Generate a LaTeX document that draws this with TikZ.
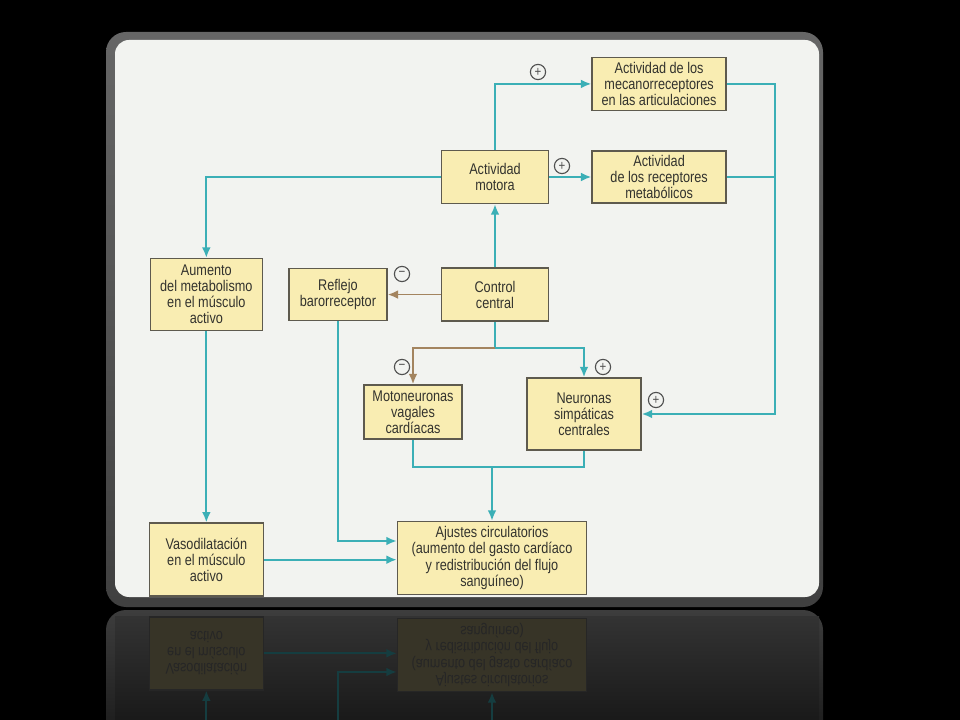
\documentclass[tikz,border=0pt]{standalone}
\usepackage{fontspec}
\setmainfont{Liberation Sans}[FakeStretch=0.82]
\usepackage{tikz}
\usetikzlibrary{positioning,arrows.meta,calc}
\definecolor{boxfill}{HTML}{F9EDB2}
\definecolor{boxline}{HTML}{5E5A4E}
\definecolor{boxtext}{HTML}{33332E}
\definecolor{flow}{HTML}{3BAFB6}
\definecolor{inhib}{HTML}{A3845F}
\definecolor{signline}{HTML}{505050}
\definecolor{pagecol}{HTML}{F2F3F0}
\tikzset{
  box/.style={draw=boxline,fill=boxfill,text=boxtext,line width=1.1pt,align=center,inner sep=2pt,
    font=\fontsize{11}{11.4}\selectfont},
  arr/.style={-{Latex[length=2.6mm,width=2.2mm]},draw=flow,line width=1.3pt},
  link/.style={draw=flow,line width=1.3pt},
  neg/.style={-{Latex[length=2.6mm,width=2.2mm]},draw=inhib,line width=1.3pt},
  sign/.style={draw=signline,circle,line width=0.8pt,inner sep=0pt,minimum size=0.38cm,
    text=signline,font=\fontsize{10}{10}\selectfont},
}
% texts of the upper boxes (left out in the reflection)
\newcommand\alto[1]{#1}
% boxes, arrows and signs of the scheme
\newcommand\ejercicio{%
\node[box, minimum width=2.675cm, minimum height=1.325cm] (motora) at (495,177) {\alto{Actividad\\motora}};
\node[box, right=1.05cm of motora, minimum width=3.35cm, minimum height=1.3cm] (metab) {\alto{Actividad\\de los receptores\\metabólicos}};
\node[box, above=0.975cm of metab, minimum width=3.35cm, minimum height=1.325cm] (mecano) {\alto{Actividad de los\\mecanorreceptores\\en las articulaciones}};
\node[box, below=1.575cm of motora, minimum width=2.675cm, minimum height=1.325cm] (control) {\alto{Control\\central}};
\node[box, left=1.325cm of control, minimum width=2.45cm, minimum height=1.3cm] (baro) {\alto{Reflejo\\barorreceptor}};
\node[box, left=0.625cm of baro, minimum width=2.8cm, minimum height=1.8cm] (musculo) {\alto{Aumento\\del metabolismo\\en el músculo\\activo}};
\node[box, minimum width=2.45cm, minimum height=1.35cm] (vagal) at (413,412) {\alto{Motoneuronas\\vagales\\cardíacas}};
\node[box, minimum width=2.85cm, minimum height=1.8cm] (simpat) at (584,414) {\alto{Neuronas\\simpáticas\\centrales}};
\node[box, below=4.775cm of musculo, minimum width=2.85cm, minimum height=1.825cm] (vaso) {Vasodilatación\\en el músculo\\activo};
\node[box, minimum width=4.725cm, minimum height=1.825cm] (ajustes) at (492,558) {Ajustes circulatorios\\(aumento del gasto cardíaco\\y redistribución del flujo\\sanguíneo)};
\coordinate (split) at ($(control.south)+(0,26)$);
\coordinate (merge) at ($(ajustes.north)+(0,-54)$);
\draw[arr] (motora.north) |- (mecano.west);
\draw[arr] (motora.east) -- (metab.west);
\draw[arr] (motora.west) -| (musculo.north);
\draw[arr] (control) -- (motora);
\draw[neg] (control) -- (baro);
\draw[link] (control.south) -- (split);
\draw[neg] (split) -| (vagal.north);
\draw[arr] (split) -| (simpat.north);
\draw[arr] (mecano.east) -- ++(48,0) |- (simpat.east);
\draw[link] (metab.east) -- ++(48,0);
\draw[link] (vagal.south) |- (merge) -| (simpat.south);
\draw[arr] (merge) -- (ajustes.north);
\draw[arr] (musculo) -- (vaso);
\draw[arr] (baro.south) |- ([yshift=0.425cm]ajustes.west);
\draw[arr] (vaso.east) -- (vaso.east -| ajustes.west);
\node[sign] (pmec) at (538,72) {\alto{+}};
\node[sign] (pmet) at (562,166) {\alto{+}};
\node[sign] (mbaro) at (402,274) {\alto{−}};
\node[sign] (mvag) at (402,367) {\alto{−}};
\node[sign] (psim) at (603,367) {\alto{+}};
\node[sign] (pret) at (656,400) {\alto{+}};
}

\begin{document}
\begin{tikzpicture}[x=0.025cm,y=-0.025cm]
\useasboundingbox (0,0) rectangle (960,720);
\fill[black] (0,0) rectangle (960,720);
% reflection
\begin{scope}
\clip (0,609) rectangle (960,720);
\shade[top color=black!76, bottom color=black!92, rounded corners=0.5cm] (106,610) rectangle (823,760);
\shade[top color=black!80, bottom color=black!90] (115,616) rectangle (819,720);
\begin{scope}[shift={(0,1213)}, yscale=-1, transform shape]
\renewcommand\alto[1]{}
\colorlet{boxfill}{boxfill!22!black}
\colorlet{boxline}{black!85}
\colorlet{boxtext}{black!85}
\colorlet{flow}{flow!35!black}
\colorlet{inhib}{inhib!30!black}
\colorlet{signline}{black!80}
\ejercicio
\end{scope}
\end{scope}
% frame and page
\shade[top color=black!60, bottom color=black!75, rounded corners=0.5cm] (106,32) rectangle (823,607);
\fill[pagecol, rounded corners=0.35cm] (115,40) rectangle (819,597);
\ejercicio
\end{tikzpicture}
\end{document}
